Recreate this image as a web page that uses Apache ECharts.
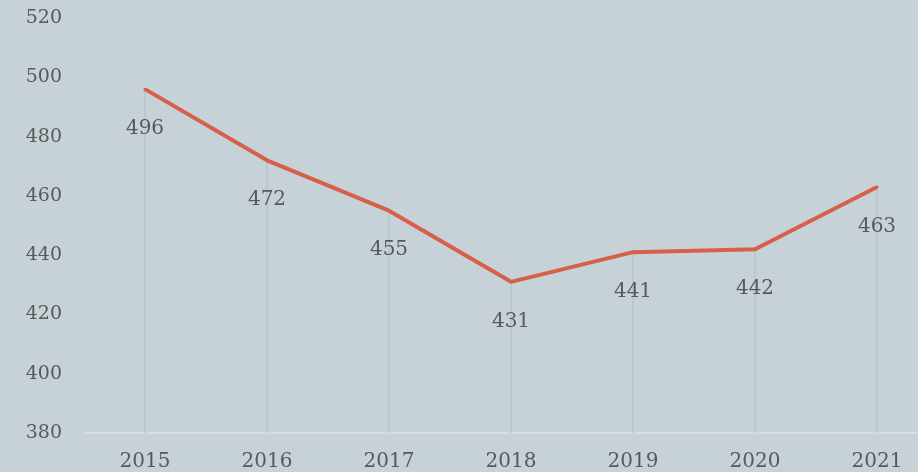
<!DOCTYPE html>
<html>
<head>
<meta charset="utf-8">
<script src="https://cdn.jsdelivr.net/npm/echarts@6/dist/echarts.min.js"></script>
<style>
  html, body { margin: 0; padding: 0; background: #c7d2d8; overflow: hidden; }
  /* 比窗口宽一点，最右边的类目区被裁掉 */
  #chart { width: 938px; height: 472px; }
</style>
</head>
<body>
<div id="chart"></div>
<script>
// 年份
var years = ["2015", "2016", "2017", "2018", "2019", "2020", "2021"];
// 数值
var values = [496, 472, 455, 431, 441, 442, 463];
// y轴刻度
var yMin = 380;
var yMax = 520;
var yStep = 20;

var chart = echarts.init(document.getElementById("chart"));
var font = "DejaVu Serif";

var option = {
  backgroundColor: "#c7d2d8",
  animation: false,
  grid: {
    left: 84,
    right: 0,
    top: 18,
    bottom: 39
  },
  xAxis: {
    type: "category",
    data: years,
    boundaryGap: true,
    axisLine: { lineStyle: { color: "#dde1e3", width: 1.5 } },
    axisTick: { show: false },
    axisLabel: {
      color: "#595959",
      fontFamily: font,
      fontSize: 20,
      margin: 19
    },
    splitLine: { show: false }
  },
  yAxis: {
    type: "value",
    min: yMin,
    max: yMax,
    interval: yStep,
    axisLine: { show: false },
    axisTick: { show: false },
    splitLine: { show: false },
    axisLabel: {
      color: "#595959",
      fontFamily: font,
      fontSize: 19,
      margin: 22
    }
  },
  series: [
    {
      // 竖向连接线
      type: "bar",
      data: values,
      barWidth: 1.5,
      barGap: "-100%",
      silent: true,
      itemStyle: { color: "#b7c3c9" },
      z: 1
    },
    {
      type: "line",
      data: values,
      symbol: "circle",
      symbolSize: 3,
      showSymbol: true,
      itemStyle: { color: "#d6604a" },
      smooth: false,
      lineStyle: { color: "#d6604a", width: 4 },
      label: {
        show: true,
        position: "bottom",
        distance: 28,
        color: "#595959",
        fontFamily: font,
        fontSize: 20
      },
      z: 3
    }
  ]
};

chart.setOption(option);
</script>
</body>
</html>
